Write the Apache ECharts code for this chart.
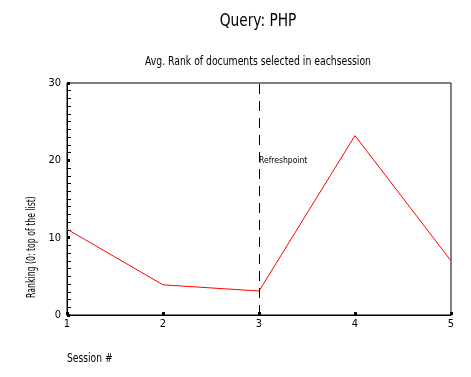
<!DOCTYPE html>
<html>
<head>
<meta charset="utf-8">
<script src="https://cdn.jsdelivr.net/npm/echarts@6/dist/echarts.min.js"></script>
<style>
  html, body { margin: 0; padding: 0; background: #fff; }
  #chart { width: 471px; height: 377px; }
</style>
</head>
<body>
<div id="chart"></div>
<script>
  // data
  const sessions = [1, 2, 3, 4, 5]
  const avgRank = [11.1, 3.9, 3.1, 23.2, 7.0]
  const refreshSession = 3
  const yTicks = [0, 10, 20, 30]

  const font = '"DejaVu Sans Condensed", "Liberation Sans Narrow", sans-serif'
  const chart = echarts.init(document.getElementById('chart'))

  // narrow text helper, the original uses a very condensed face
  function label(text, x, y, size, sx, opts) {
    return Object.assign({
      type: 'text', x, y, scaleX: sx,
      style: {
        text, fill: '#000', font: size + 'px ' + font,
        align: 'center', verticalAlign: 'middle',
      },
    }, opts || {})
  }

  chart.setOption({
    animation: false,
    textStyle: { fontFamily: font },
    grid: {
      left: 67, right: 20, top: 83, bottom: 62,
      show: true, borderColor: '#000', borderWidth: 1,
    },
    xAxis: {
      type: 'value',
      min: sessions[0], max: sessions[sessions.length - 1], interval: 1,
      axisLine: { lineStyle: { color: '#000', width: 1 } },
      axisTick: { inside: true, length: 3, lineStyle: { color: '#000', width: 3 } },
      axisLabel: { color: '#000', fontSize: 11, margin: 4, fontFamily: font },
      splitLine: { show: false },
    },
    yAxis: {
      type: 'value',
      min: yTicks[0], max: yTicks[yTicks.length - 1], interval: 10,
      axisLine: { show: true, lineStyle: { color: '#000', width: 1 } },
      axisTick: { show: true, inside: true, length: 3, lineStyle: { color: '#000', width: 3 } },
      minorTick: { show: true, splitNumber: 10, length: 4, lineStyle: { color: '#000', width: 1 } },
      axisLabel: { color: '#000', fontSize: 11, margin: 6, fontFamily: font },
      splitLine: { show: false },
    },
    graphic: [
      label('Query: PHP', 258, 22, 17, 0.9),
      label('Avg. Rank of documents selected in eachsession', 258, 62, 12, 0.86),
      label('Ranking (0: top of the list)', 32, 247, 12, 0.72, { rotation: Math.PI / 2 }),
      {
        type: 'text', x: 67, y: 359, scaleX: 0.85,
        style: {
          text: 'Session #', fill: '#000', font: '12px ' + font,
          align: 'left', verticalAlign: 'middle',
        },
      },
    ],
    series: [
      {
        type: 'line',
        data: sessions.map((s, i) => [s, avgRank[i]]),
        showSymbol: false,
        lineStyle: { color: '#ff0000', width: 1 },
        markLine: {
          silent: true, symbol: 'none',
          label: { show: false },
          lineStyle: { color: '#000', type: [10, 7], width: 1 },
          data: [{ xAxis: refreshSession }],
        },
        markPoint: {
          silent: true, symbol: 'circle', symbolSize: 0,
          label: {
            show: true, position: 'right', distance: 0,
            formatter: 'Refreshpoint', color: '#000', fontSize: 8.5, fontFamily: font,
          },
          data: [{ coord: [refreshSession, 20] }],
        },
      },
    ],
  })
</script>
</body>
</html>
